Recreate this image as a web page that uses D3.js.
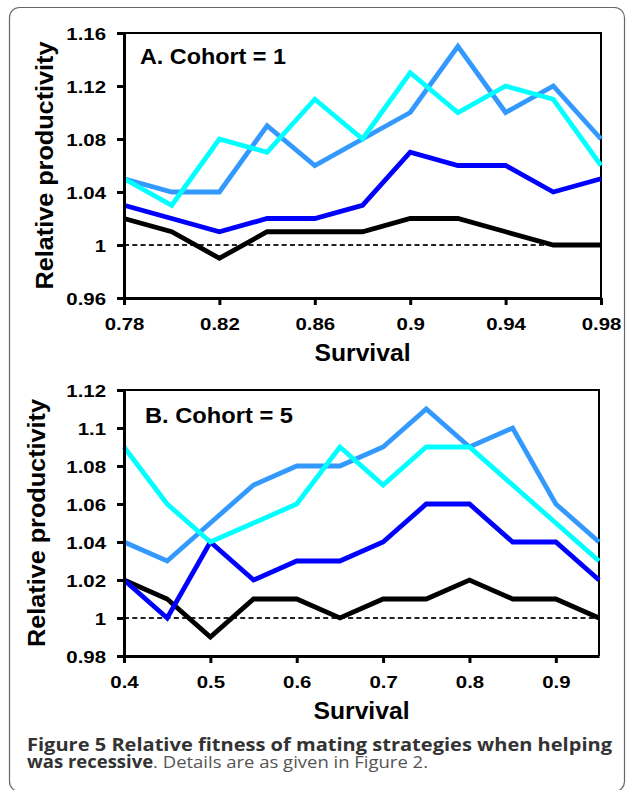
<!DOCTYPE html>
<html>
<head>
<meta charset="utf-8">
<script src="https://d3js.org/d3.v7.min.js"></script>
<style>
  body { margin: 0; background: #fff; }
  .axis path, .axis line { stroke: #000; }
  .axis text { font-family: "Liberation Sans", Arial, sans-serif; font-weight: bold; font-size: 17px; fill: #000; }
  .series { fill: none; stroke-width: 4.8px; stroke-linejoin: miter; }
  .title, .axlabel { font-family: "Liberation Sans", Arial, sans-serif; font-weight: bold; fill: #000; }
</style>
</head>
<body>
<svg id="fig" width="627" height="790"></svg>
<script>
// panel A, cohort = 1
const survivalA = [0.78, 0.80, 0.82, 0.84, 0.86, 0.88, 0.90, 0.92, 0.94, 0.96, 0.98];
const blackA    = [1.02, 1.01, 0.99, 1.01, 1.01, 1.01, 1.02, 1.02, 1.01, 1.00, 1.00];
const blueA     = [1.03, 1.02, 1.01, 1.02, 1.02, 1.03, 1.07, 1.06, 1.06, 1.04, 1.05];
const lightA    = [1.05, 1.04, 1.04, 1.09, 1.06, 1.08, 1.10, 1.15, 1.10, 1.12, 1.08];
const cyanA     = [1.05, 1.03, 1.08, 1.07, 1.11, 1.08, 1.13, 1.10, 1.12, 1.11, 1.06];
const xTicksA = [0.78, 0.82, 0.86, 0.9, 0.94, 0.98];
const yTicksA = [0.96, 1, 1.04, 1.08, 1.12, 1.16];

// panel B, cohort = 5
const survivalB = [0.40, 0.45, 0.50, 0.55, 0.60, 0.65, 0.70, 0.75, 0.80, 0.85, 0.90, 0.95];
const blackB    = [1.02, 1.01, 0.99, 1.01, 1.01, 1.00, 1.01, 1.01, 1.02, 1.01, 1.01, 1.00];
const blueB     = [1.02, 1.00, 1.04, 1.02, 1.03, 1.03, 1.04, 1.06, 1.06, 1.04, 1.04, 1.02];
const lightB    = [1.04, 1.03, 1.05, 1.07, 1.08, 1.08, 1.09, 1.11, 1.09, 1.10, 1.06, 1.04];
const cyanB     = [1.09, 1.06, 1.04, 1.05, 1.06, 1.09, 1.07, 1.09, 1.09, 1.07, 1.05, 1.03];
const xTicksB = [0.4, 0.5, 0.6, 0.7, 0.8, 0.9];
const yTicksB = [0.98, 1, 1.02, 1.04, 1.06, 1.08, 1.1, 1.12];

const colors = ["#000000", "#0000ff", "#3399ff", "#00ffff"];

const svg = d3.select("#fig");

// outer rounded frame
svg.append("rect")
   .attr("x", 9.5).attr("y", 7.5).attr("width", 615).attr("height", 784)
   .attr("rx", 10).attr("fill", "none").attr("stroke", "#666").attr("stroke-width", 1.2);

// stretch bold Arial-ish text a little, the original glyphs are wider
function widen(sel, k) {
    sel.each(function() {
        const w = this.getComputedTextLength();
        d3.select(this).attr("textLength", w * k).attr("lengthAdjust", "spacingAndGlyphs");
    });
}

function drawPanel(p) {
    const x = d3.scaleLinear().domain(p.xDomain).range([p.left, p.right]);
    const y = d3.scaleLinear().domain(p.yDomain).range([p.bottom, p.top]);
    const g = svg.append("g");

    // top and right frame
    g.append("path")
     .attr("d", "M" + p.left + "," + p.top + "H" + p.right + "V" + p.bottom)
     .attr("fill", "none").attr("stroke", "#000").attr("stroke-width", 2);

    // reference line at 1
    g.append("line")
     .attr("x1", x(p.xDomain[0])).attr("x2", x(p.xDomain[1]))
     .attr("y1", y(1)).attr("y2", y(1))
     .attr("stroke", "#222").attr("stroke-width", 2).attr("stroke-dasharray", "5,3.3");

    const line = d3.line().x((d, i) => x(p.xs[i])).y(d => y(d));
    g.selectAll("path.series").data(p.series).join("path")
     .attr("class", "series")
     .attr("stroke", (d, i) => colors[i])
     .attr("d", line);

    const ya = g.append("g").attr("class", "axis")
        .attr("transform", "translate(" + p.left + ",0)")
        .call(d3.axisLeft(y).tickValues(p.yTicks).tickSize(7).tickSizeOuter(0)
              .tickPadding(11).tickFormat(d => String(d)));
    ya.select(".domain").attr("stroke-width", 3);
    ya.selectAll(".tick line").attr("stroke-width", 3);
    ya.selectAll(".tick text").attr("dy", "0.36em");
    widen(ya.selectAll(".tick text"), 1.2);

    const xa = g.append("g").attr("class", "axis")
        .attr("transform", "translate(0," + p.bottom + ")")
        .call(d3.axisBottom(x).tickValues(p.xTicks).tickSize(7).tickSizeOuter(0)
              .tickFormat(d => String(d)));
    xa.select(".domain").attr("stroke-width", 3);
    xa.selectAll(".tick line").attr("stroke-width", 3);
    xa.selectAll(".tick text").attr("y", 32).attr("dy", 0);
    widen(xa.selectAll(".tick text"), 1.2);

    g.append("text").attr("class", "title")
     .attr("x", p.titleX).attr("y", p.titleY)
     .attr("font-size", 22)
     .attr("textLength", p.titleW).attr("lengthAdjust", "spacingAndGlyphs")
     .text(p.title);

    g.append("text").attr("class", "axlabel")
     .attr("x", (p.left + p.right) / 2).attr("y", p.bottom + 63)
     .attr("text-anchor", "middle").attr("font-size", 24)
     .attr("textLength", 96).attr("lengthAdjust", "spacingAndGlyphs")
     .text("Survival");

    g.append("text").attr("class", "axlabel")
     .attr("transform", "translate(" + p.yLabelX + "," + ((p.top + p.bottom) / 2) + ") rotate(-90)")
     .attr("text-anchor", "middle").attr("dy", "0.36em").attr("font-size", 23)
     .attr("textLength", 248).attr("lengthAdjust", "spacingAndGlyphs")
     .text("Relative  productivity");
}

drawPanel({
    xs: survivalA, series: [blackA, blueA, lightA, cyanA],
    xDomain: [0.78, 0.98], yDomain: [0.96, 1.16],
    xTicks: xTicksA, yTicks: yTicksA,
    left: 124, right: 601, top: 33, bottom: 298,
    title: "A. Cohort = 1", titleX: 140, titleY: 64, titleW: 146,
    yLabelX: 45
});

drawPanel({
    xs: survivalB, series: [blackB, blueB, lightB, cyanB],
    xDomain: [0.4, 0.95], yDomain: [0.98, 1.12],
    xTicks: xTicksB, yTicks: yTicksB,
    left: 124, right: 599, top: 390, bottom: 656,
    title: "B. Cohort = 5", titleX: 145, titleY: 423, titleW: 148,
    yLabelX: 37
});

// caption
const cap = svg.append("g").style("font-family", "'Open Sans', sans-serif").style("font-size", "17px");
cap.append("text").attr("x", 27).attr("y", 751)
   .attr("font-weight", "bold").attr("fill", "#333")
   .attr("textLength", 585).attr("lengthAdjust", "spacingAndGlyphs")
   .text("Figure 5 Relative fitness of mating strategies when helping");
const l2 = cap.append("text").attr("x", 27).attr("y", 768)
   .attr("textLength", 401).attr("lengthAdjust", "spacingAndGlyphs");
l2.append("tspan").attr("font-weight", "bold").attr("fill", "#333").text("was recessive");
l2.append("tspan").attr("fill", "#555").text(". Details are as given in Figure 2.");
</script>
</body>
</html>
